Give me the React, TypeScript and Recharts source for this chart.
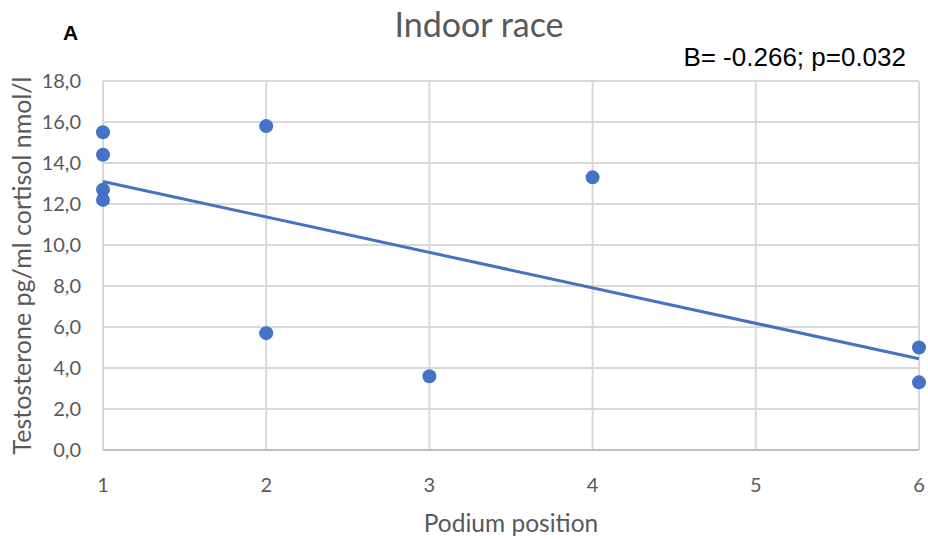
import React from "react";
import {
  ComposedChart,
  Scatter,
  Line,
  XAxis,
  YAxis,
  CartesianGrid,
  Label,
  Customized,
} from "recharts";

// podium position and testosterone/cortisol ratio per athlete
const podium = [1, 1, 1, 1, 2, 2, 3, 4, 6, 6];
const ratio = [15.5, 14.4, 12.7, 12.2, 15.8, 5.7, 3.6, 13.3, 5.0, 3.3];

// linear trendline end points
const trendX = [1, 6];
const trendY = [13.1, 4.45];

const xTicks = [1, 2, 3, 4, 5, 6];
const yTicks = [0, 2, 4, 6, 8, 10, 12, 14, 16, 18];

const points = podium.map((x, i) => ({ x, y: ratio[i] }));
const trend = trendX.map((x, i) => ({ x, y: trendY[i] }));

const BLUE = "#4472C4";
const GREY = "#595959";
const FONT = "Lato, 'Open Sans', sans-serif";
const ARIAL = "'Liberation Sans', Arial, sans-serif";

const Headings = () => (
  <g>
    <text x={63} y={40} fontFamily={ARIAL} fontWeight={700} fontSize={21} fill="#000">
      A
    </text>
    <text x={479} y={37} textAnchor="middle" fontFamily={FONT} fontSize={34} fill={GREY}>
      Indoor race
    </text>
    <text x={906} y={66} textAnchor="end" fontFamily={ARIAL} fontSize={26} fill="#000">
      B= -0.266; p=0.032
    </text>
  </g>
);

const YTitle = ({ viewBox }: any) => {
  const cx = viewBox.x + 31;
  const cy = viewBox.y + viewBox.height / 2;
  return (
    <text
      x={cx}
      y={cy}
      transform={`rotate(-90, ${cx}, ${cy})`}
      textAnchor="middle"
      fontFamily={FONT}
      fontSize={25}
      fill={GREY}
    >
      Testosterone pg/ml cortisol nmol/l
    </text>
  );
};

export default function App() {
  return (
    <div style={{ position: "absolute", left: 0, top: 0, width: 928, height: 539, background: "#fff" }}>
      <ComposedChart
        width={928}
        height={539}
        margin={{ top: 81, right: 9, bottom: 0, left: 0 }}
      >
        <CartesianGrid stroke="#d9d9d9" strokeWidth={2} />
        <XAxis
          type="number"
          dataKey="x"
          domain={[1, 6]}
          ticks={xTicks}
          interval={0}
          height={89}
          tickSize={0}
          tickMargin={28}
          tick={{ fontFamily: FONT, fontSize: 20, fill: GREY }}
          axisLine={{ stroke: "#bfbfbf", strokeWidth: 2 }}
        >
          <Label
            value="Podium position"
            position="insideBottom"
            offset={7}
            style={{ fontFamily: FONT, fontSize: 24.5, fill: GREY }}
          />
        </XAxis>
        <YAxis
          type="number"
          dataKey="y"
          domain={[0, 18]}
          ticks={yTicks}
          interval={0}
          width={103}
          tickSize={0}
          tickMargin={22}
          axisLine={false}
          tick={{ fontFamily: FONT, fontSize: 20, fill: GREY }}
          tickFormatter={(v: number) => v.toFixed(1).replace(".", ",")}
        >
          <Label content={<YTitle />} />
        </YAxis>
        <Scatter
          data={points}
          dataKey="y"
          fill={BLUE}
          shape={(p: any) => <circle cx={p.cx} cy={p.cy} r={7} fill={BLUE} />}
          isAnimationActive={false}
        />
        <Line
          data={trend}
          dataKey="y"
          type="linear"
          stroke={BLUE}
          strokeWidth={3}
          dot={false}
          activeDot={false}
          isAnimationActive={false}
        />
        <Customized component={Headings} />
      </ComposedChart>
    </div>
  );
}
